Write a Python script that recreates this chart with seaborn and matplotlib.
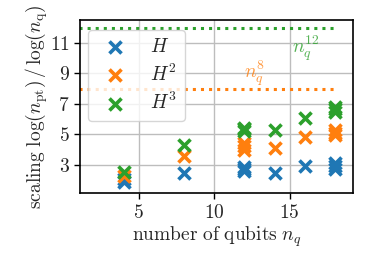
import numpy as np
import pandas as pd
import seaborn as sns
import matplotlib.pyplot as plt

# scaling exponents
h1_x = [4, 4, 8, 12, 12, 12, 14, 16, 18, 18, 18]
h1_y = [1.85, 2.05, 2.5, 2.6, 2.75, 2.85, 2.45, 2.9, 2.7, 2.9, 3.1]
h2_x = [4, 8, 12, 12, 12, 14, 16, 18, 18, 18]
h2_y = [2.25, 3.6, 4.0, 4.25, 4.45, 4.1, 4.8, 4.95, 5.1, 5.3]
h3_x = [4, 8, 12, 12, 12, 14, 16, 18, 18, 18]
h3_y = [2.55, 4.3, 5.2, 5.35, 5.45, 5.3, 6.1, 6.45, 6.65, 6.8]

labels = [r'$H$', r'$H^2$', r'$H^3$']
colors = ['#1f77b4', '#ff7f0e', '#2ca02c']

# reference exponents (dotted lines)
ref_x = [1, 18]
ref_8 = [8, 8]
ref_12 = [12, 12]

sns.set_style('ticks')
plt.rcParams['font.family'] = ['DejaVu Serif']
plt.rcParams['mathtext.fontset'] = 'cm'
fs = 14

fig = plt.figure(figsize=(3.74, 2.72), dpi=100)
ax = fig.add_axes([0.214, 0.29, 0.73, 0.636])

ax.grid(True, color='#bdbdbd', lw=1.0)
ax.set_axisbelow(True)

for xs, ys, lab, c in zip([h1_x, h2_x, h3_x], [h1_y, h2_y, h3_y], labels, colors):
    df = pd.DataFrame({'n': xs, 's': ys})
    sns.scatterplot(data=df, x='n', y='s', marker='x', s=75, linewidth=2.6,
                    color=c, label=lab, ax=ax, zorder=3)

sns.lineplot(x=ref_x, y=ref_8, color=colors[1], lw=2.2, ls=':', ax=ax, legend=False)
sns.lineplot(x=ref_x, y=ref_12, color=colors[2], lw=2.2, ls=':', ax=ax, legend=False)

ax.text(12.7, 9.0, r'$n_q^{8}$', color=colors[1], alpha=0.8, fontsize=fs, ha='center', va='center')
ax.text(16.1, 10.65, r'$n_q^{12}$', color=colors[2], alpha=0.8, fontsize=fs, ha='center', va='center')

ax.set_xlim(1.1, 19.2)
ax.set_ylim(1.15, 12.5)
ax.set_xticks([5, 10, 15])
ax.set_xticklabels([r'$5$', r'$10$', r'$15$'])
ax.set_yticks([3, 5, 7, 9, 11])
ax.set_yticklabels([r'$3$', r'$5$', r'$7$', r'$9$', r'$11$'])
ax.tick_params(labelsize=fs, length=4, width=1, color='black')
for sp in ax.spines.values():
    sp.set_color('black')
    sp.set_linewidth(1.2)

ax.set_xlabel(r'$\mathrm{number\ of\ qubits}\ n_q$', fontsize=fs, labelpad=2)
ax.set_ylabel(r'$\mathrm{scaling}\ \log(n_\mathrm{pt})\,/\,\log(n_\mathrm{q})$', fontsize=fs, labelpad=0)

ax.legend(loc='upper left', bbox_to_anchor=(0.03, 0.942), borderaxespad=0, fontsize=fs,
          labelspacing=0.38, framealpha=0.8, edgecolor='#cccccc')

fig.savefig('out.png', dpi=100)
